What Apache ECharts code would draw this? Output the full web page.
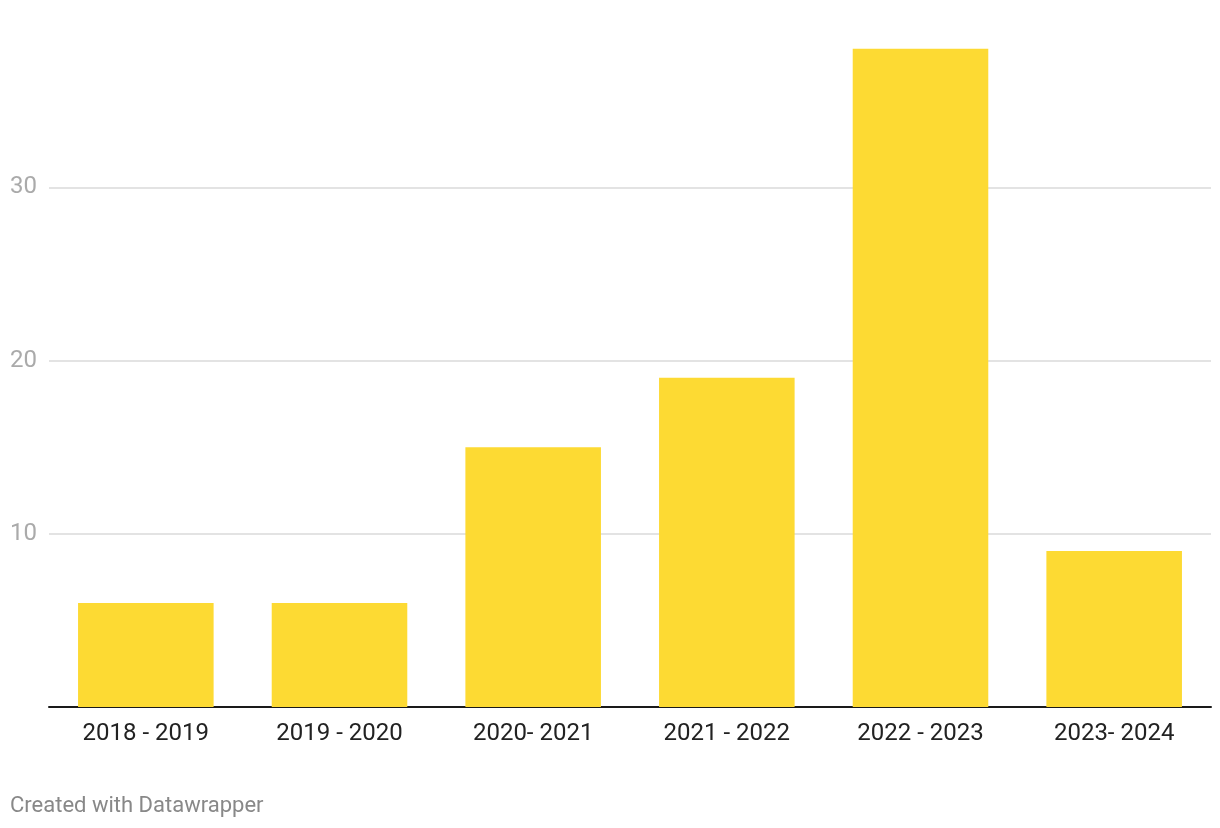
<!DOCTYPE html>
<html><head><meta charset="utf-8">
<script src="https://cdn.jsdelivr.net/npm/echarts@6/dist/echarts.min.js"></script>
<style>html,body{margin:0;padding:0;background:#fff}#c{width:1220px;height:828px}</style>
</head><body><div id="c"></div>
<script>
const categories = ['2018 - 2019','2019 - 2020','2020- 2021','2021 - 2022','2022 - 2023','2023- 2024'];
const values = [6, 6, 15, 19, 38, 9];
const yTicks = [10, 20, 30];

const chart = echarts.init(document.getElementById('c'), null, {renderer:'canvas'});
chart.setOption({
  animation: false,
  backgroundColor: '#fff',
  grid: {left: 49, right: 9, top: 14, bottom: 121},
  graphic: [{type:'text', left: 10, top: 795, style:{text:'Created with Datawrapper', font:'22px Roboto', fill:'#888'}}],
  xAxis: {
    type: 'category', data: categories,
    axisLine: {show: true, lineStyle: {color: '#1a1a1a', width: 2}},
    axisTick: {show: false},
    axisLabel: {color: '#222', fontFamily: 'Roboto', fontSize: 24, margin: 15}
  },
  yAxis: {
    type: 'value', min: 0, max: 40, interval: 10,
    axisLine: {show: false}, axisTick: {show: false},
    axisLabel: {color: '#aaa', fontFamily: 'Roboto', fontSize: 24, align: 'left', margin: 39,
      padding: [3, 0, 0, 0],
      formatter: v => yTicks.includes(v) ? String(v) : ''},
    splitLine: {show: true, showMaxLine: false, showMinLine: false, lineStyle: {color: '#e3e3e3', width: 2}}
  },
  series: [{
    type: 'bar', data: values, barCategoryGap: '30%',
    itemStyle: {color: '#fdda33'}
  }]
});
</script></body></html>
